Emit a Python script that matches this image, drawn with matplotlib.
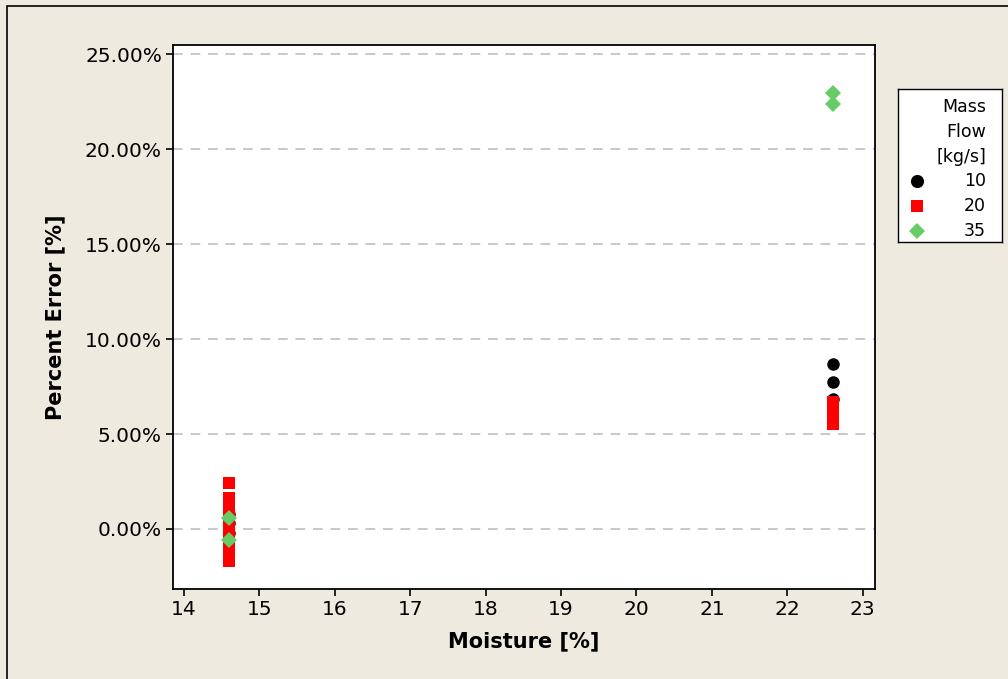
import matplotlib
matplotlib.use('Agg')
from matplotlib import pyplot as plt
from matplotlib.ticker import FuncFormatter
from matplotlib.patches import Rectangle

# percent error vs moisture, grouped by mass flow [kg/s]
flows = ['10', '20', '35']
colors = ['black', '#ff0000', '#66cc66']
markers = ['o', 's', 'D']
sizes = [9, 8.5, 8]

moist_10 = [14.6, 14.6, 14.6, 22.6, 22.6, 22.6]
err_10 = [0.8, 0.3, -0.2, 8.68, 7.74, 6.84]

moist_20 = [14.6] * 13 + [22.6] * 5
err_20 = [2.42, 1.63, 1.35, 1.05, 0.75, 0.45, 0.15, -0.15, -0.45, -0.75,
          -1.05, -1.35, -1.68,
          6.68, 6.4, 6.1, 5.8, 5.55]

moist_35 = [14.6, 14.6, 22.6, 22.6]
err_35 = [0.58, -0.58, 22.98, 22.4]

xticks = list(range(14, 24))
yticks = [0, 5, 10, 15, 20, 25]

bg = '#eeeae0'
fig = plt.figure(figsize=(10.08, 6.79), dpi=100, facecolor=bg)
W, H = 1008, 679

# outer frame
fig.add_artist(Rectangle((7/W, -0.1), 1.2, (679-6)/H + 0.1, transform=fig.transFigure,
                         fill=False, edgecolor='black', linewidth=1.2))

ax = fig.add_axes([173/W, (H-589)/H, (875-173)/W, (589-45)/H])
ax.set_facecolor('white')

for xs, ys, c, m, s in zip([moist_10, moist_20, moist_35], [err_10, err_20, err_35],
                           colors, markers, sizes):
    ax.plot(xs, ys, linestyle='none', marker=m, color=c, markersize=s,
            markeredgewidth=0, zorder=3)

ax.set_xlim(13.854, 23.163)
ax.set_ylim(-3.16, 25.49)
ax.set_xticks(xticks)
ax.set_yticks(yticks)
ax.yaxis.set_major_formatter(FuncFormatter(lambda v, p: '%.2f%%' % v))
ax.grid(axis='y', color='#c8c8c8', linestyle=(0, (5, 4)), linewidth=1.4, zorder=0)
ax.tick_params(direction='out', length=5, width=1.2, labelsize=14.5, colors='black', pad=3)
for sp in ax.spines.values():
    sp.set_linewidth(1.3)

ax.set_xlabel('Moisture [%]', fontsize=15, fontweight='bold', labelpad=9)
ax.set_ylabel('Percent Error [%]', fontsize=15, fontweight='bold', labelpad=14)

# legend box
lg = fig.add_axes([898/W, (H-242)/H, 104/W, 153/H])
lg.set_xlim(0, 104)
lg.set_ylim(153, 0)
lg.set_xticks([])
lg.set_yticks([])
lg.set_facecolor('white')
for sp in lg.spines.values():
    sp.set_linewidth(1.0)
for i, t in enumerate(['Mass', 'Flow', '[kg/s]']):
    lg.text(88, 18 + 25 * i, t, ha='right', va='center', fontsize=12.5)
for i, (f, c, m, s) in enumerate(zip(flows, colors, markers, sizes)):
    y = 92 + 25 * i
    lg.plot([19], [y], marker=m, color=c, markersize=s * 1.05, markeredgewidth=0)
    lg.text(88, y, f, ha='right', va='center', fontsize=12.5)

fig.savefig('out.png', dpi=100, facecolor=bg)
